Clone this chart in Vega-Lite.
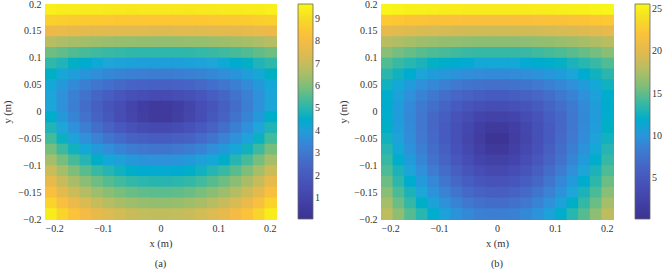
{
  "$schema": "https://vega.github.io/schema/vega-lite/v6.json",
  "padding": {"left": 2, "top": -2, "right": 0, "bottom": 0},
  "background": "white",
  "spacing": 17,
  "config": {
    "font": "Liberation Serif",
    "view": {"stroke": "#555555", "strokeWidth": 1},
    "axis": {"domain": false, "ticks": false, "grid": false, "labelFont": "Liberation Serif", "labelFontSize": 10, "labelColor": "#333333", "labelPadding": 4, "titleFont": "Liberation Serif", "titleFontSize": 10.5, "titleFontWeight": "normal", "titleColor": "#333333", "titlePadding": 5},
    "legend": {"orient": "right", "offset": 22, "padding": 0, "gradientLength": 215, "gradientThickness": 15, "gradientStrokeColor": "#666666", "gradientStrokeWidth": 0.8, "labelFont": "Liberation Serif", "labelFontSize": 10, "labelColor": "#333333", "labelOffset": 5},
    "title": {"font": "Liberation Serif", "fontSize": 10.5, "fontWeight": "normal", "color": "#333333"}
  },
  "datasets": {
    "a": [
      {"x":-0.2,"y":0.18,"v":9.46},{"x":-0.18,"y":0.18,"v":9.42},{"x":-0.16,"y":0.18,"v":9.39},{"x":-0.14,"y":0.18,"v":9.36},{"x":-0.12,"y":0.18,"v":9.34},{"x":-0.1,"y":0.18,"v":9.33},{"x":-0.08,"y":0.18,"v":9.32},{"x":-0.06,"y":0.18,"v":9.31},{"x":-0.04,"y":0.18,"v":9.30},{"x":-0.02,"y":0.18,"v":9.30},{"x":0,"y":0.18,"v":9.30},{"x":0.02,"y":0.18,"v":9.30},{"x":0.04,"y":0.18,"v":9.31},{"x":0.06,"y":0.18,"v":9.32},{"x":0.08,"y":0.18,"v":9.33},{"x":0.1,"y":0.18,"v":9.34},{"x":0.12,"y":0.18,"v":9.36},{"x":0.14,"y":0.18,"v":9.39},{"x":0.16,"y":0.18,"v":9.42},{"x":0.18,"y":0.18,"v":9.46},
      {"x":-0.2,"y":0.16,"v":8.73},{"x":-0.18,"y":0.16,"v":8.67},{"x":-0.16,"y":0.16,"v":8.63},{"x":-0.14,"y":0.16,"v":8.59},{"x":-0.12,"y":0.16,"v":8.56},{"x":-0.1,"y":0.16,"v":8.54},{"x":-0.08,"y":0.16,"v":8.52},{"x":-0.06,"y":0.16,"v":8.51},{"x":-0.04,"y":0.16,"v":8.50},{"x":-0.02,"y":0.16,"v":8.50},{"x":0,"y":0.16,"v":8.50},{"x":0.02,"y":0.16,"v":8.50},{"x":0.04,"y":0.16,"v":8.51},{"x":0.06,"y":0.16,"v":8.52},{"x":0.08,"y":0.16,"v":8.54},{"x":0.1,"y":0.16,"v":8.56},{"x":0.12,"y":0.16,"v":8.59},{"x":0.14,"y":0.16,"v":8.63},{"x":0.16,"y":0.16,"v":8.67},{"x":0.18,"y":0.16,"v":8.73},
      {"x":-0.2,"y":0.14,"v":7.79},{"x":-0.18,"y":0.14,"v":7.71},{"x":-0.16,"y":0.14,"v":7.64},{"x":-0.14,"y":0.14,"v":7.58},{"x":-0.12,"y":0.14,"v":7.54},{"x":-0.1,"y":0.14,"v":7.51},{"x":-0.08,"y":0.14,"v":7.49},{"x":-0.06,"y":0.14,"v":7.47},{"x":-0.04,"y":0.14,"v":7.46},{"x":-0.02,"y":0.14,"v":7.45},{"x":0,"y":0.14,"v":7.45},{"x":0.02,"y":0.14,"v":7.46},{"x":0.04,"y":0.14,"v":7.47},{"x":0.06,"y":0.14,"v":7.49},{"x":0.08,"y":0.14,"v":7.51},{"x":0.1,"y":0.14,"v":7.54},{"x":0.12,"y":0.14,"v":7.58},{"x":0.14,"y":0.14,"v":7.64},{"x":0.16,"y":0.14,"v":7.71},{"x":0.18,"y":0.14,"v":7.79},
      {"x":-0.2,"y":0.12,"v":6.76},{"x":-0.18,"y":0.12,"v":6.63},{"x":-0.16,"y":0.12,"v":6.53},{"x":-0.14,"y":0.12,"v":6.45},{"x":-0.12,"y":0.12,"v":6.39},{"x":-0.1,"y":0.12,"v":6.34},{"x":-0.08,"y":0.12,"v":6.30},{"x":-0.06,"y":0.12,"v":6.28},{"x":-0.04,"y":0.12,"v":6.26},{"x":-0.02,"y":0.12,"v":6.25},{"x":0,"y":0.12,"v":6.25},{"x":0.02,"y":0.12,"v":6.26},{"x":0.04,"y":0.12,"v":6.28},{"x":0.06,"y":0.12,"v":6.30},{"x":0.08,"y":0.12,"v":6.34},{"x":0.1,"y":0.12,"v":6.39},{"x":0.12,"y":0.12,"v":6.45},{"x":0.14,"y":0.12,"v":6.53},{"x":0.16,"y":0.12,"v":6.63},{"x":0.18,"y":0.12,"v":6.76},
      {"x":-0.2,"y":0.1,"v":5.84},{"x":-0.18,"y":0.1,"v":5.66},{"x":-0.16,"y":0.1,"v":5.51},{"x":-0.14,"y":0.1,"v":5.40},{"x":-0.12,"y":0.1,"v":5.31},{"x":-0.1,"y":0.1,"v":5.24},{"x":-0.08,"y":0.1,"v":5.18},{"x":-0.06,"y":0.1,"v":5.14},{"x":-0.04,"y":0.1,"v":5.11},{"x":-0.02,"y":0.1,"v":5.10},{"x":0,"y":0.1,"v":5.10},{"x":0.02,"y":0.1,"v":5.11},{"x":0.04,"y":0.1,"v":5.14},{"x":0.06,"y":0.1,"v":5.18},{"x":0.08,"y":0.1,"v":5.24},{"x":0.1,"y":0.1,"v":5.31},{"x":0.12,"y":0.1,"v":5.40},{"x":0.14,"y":0.1,"v":5.51},{"x":0.16,"y":0.1,"v":5.66},{"x":0.18,"y":0.1,"v":5.84},
      {"x":-0.2,"y":0.08,"v":5.12},{"x":-0.18,"y":0.08,"v":4.86},{"x":-0.16,"y":0.08,"v":4.66},{"x":-0.14,"y":0.08,"v":4.49},{"x":-0.12,"y":0.08,"v":4.36},{"x":-0.1,"y":0.08,"v":4.25},{"x":-0.08,"y":0.08,"v":4.17},{"x":-0.06,"y":0.08,"v":4.11},{"x":-0.04,"y":0.08,"v":4.07},{"x":-0.02,"y":0.08,"v":4.05},{"x":0,"y":0.08,"v":4.05},{"x":0.02,"y":0.08,"v":4.07},{"x":0.04,"y":0.08,"v":4.11},{"x":0.06,"y":0.08,"v":4.17},{"x":0.08,"y":0.08,"v":4.25},{"x":0.1,"y":0.08,"v":4.36},{"x":0.12,"y":0.08,"v":4.49},{"x":0.14,"y":0.08,"v":4.66},{"x":0.16,"y":0.08,"v":4.86},{"x":0.18,"y":0.08,"v":5.12},
      {"x":-0.2,"y":0.06,"v":4.65},{"x":-0.18,"y":0.06,"v":4.31},{"x":-0.16,"y":0.06,"v":4.03},{"x":-0.14,"y":0.06,"v":3.80},{"x":-0.12,"y":0.06,"v":3.61},{"x":-0.1,"y":0.06,"v":3.46},{"x":-0.08,"y":0.06,"v":3.34},{"x":-0.06,"y":0.06,"v":3.24},{"x":-0.04,"y":0.06,"v":3.18},{"x":-0.02,"y":0.06,"v":3.15},{"x":0,"y":0.06,"v":3.15},{"x":0.02,"y":0.06,"v":3.18},{"x":0.04,"y":0.06,"v":3.24},{"x":0.06,"y":0.06,"v":3.34},{"x":0.08,"y":0.06,"v":3.46},{"x":0.1,"y":0.06,"v":3.61},{"x":0.12,"y":0.06,"v":3.80},{"x":0.14,"y":0.06,"v":4.03},{"x":0.16,"y":0.06,"v":4.31},{"x":0.18,"y":0.06,"v":4.65},
      {"x":-0.2,"y":0.04,"v":4.33},{"x":-0.18,"y":0.04,"v":3.89},{"x":-0.16,"y":0.04,"v":3.53},{"x":-0.14,"y":0.04,"v":3.21},{"x":-0.12,"y":0.04,"v":2.95},{"x":-0.1,"y":0.04,"v":2.73},{"x":-0.08,"y":0.04,"v":2.54},{"x":-0.06,"y":0.04,"v":2.40},{"x":-0.04,"y":0.04,"v":2.31},{"x":-0.02,"y":0.04,"v":2.26},{"x":0,"y":0.04,"v":2.26},{"x":0.02,"y":0.04,"v":2.31},{"x":0.04,"y":0.04,"v":2.40},{"x":0.06,"y":0.04,"v":2.54},{"x":0.08,"y":0.04,"v":2.73},{"x":0.1,"y":0.04,"v":2.95},{"x":0.12,"y":0.04,"v":3.21},{"x":0.14,"y":0.04,"v":3.53},{"x":0.16,"y":0.04,"v":3.89},{"x":0.18,"y":0.04,"v":4.33},
      {"x":-0.2,"y":0.02,"v":4.20},{"x":-0.18,"y":0.02,"v":3.68},{"x":-0.16,"y":0.02,"v":3.22},{"x":-0.14,"y":0.02,"v":2.81},{"x":-0.12,"y":0.02,"v":2.45},{"x":-0.1,"y":0.02,"v":2.14},{"x":-0.08,"y":0.02,"v":1.86},{"x":-0.06,"y":0.02,"v":1.63},{"x":-0.04,"y":0.02,"v":1.45},{"x":-0.02,"y":0.02,"v":1.36},{"x":0,"y":0.02,"v":1.36},{"x":0.02,"y":0.02,"v":1.45},{"x":0.04,"y":0.02,"v":1.63},{"x":0.06,"y":0.02,"v":1.86},{"x":0.08,"y":0.02,"v":2.14},{"x":0.1,"y":0.02,"v":2.45},{"x":0.12,"y":0.02,"v":2.81},{"x":0.14,"y":0.02,"v":3.22},{"x":0.16,"y":0.02,"v":3.68},{"x":0.18,"y":0.02,"v":4.20},
      {"x":-0.2,"y":0,"v":4.28},{"x":-0.18,"y":0,"v":3.69},{"x":-0.16,"y":0,"v":3.16},{"x":-0.14,"y":0,"v":2.68},{"x":-0.12,"y":0,"v":2.24},{"x":-0.1,"y":0,"v":1.83},{"x":-0.08,"y":0,"v":1.44},{"x":-0.06,"y":0,"v":1.07},{"x":-0.04,"y":0,"v":0.73},{"x":-0.02,"y":0,"v":0.49},{"x":0,"y":0,"v":0.49},{"x":0.02,"y":0,"v":0.73},{"x":0.04,"y":0,"v":1.07},{"x":0.06,"y":0,"v":1.44},{"x":0.08,"y":0,"v":1.83},{"x":0.1,"y":0,"v":2.24},{"x":0.12,"y":0,"v":2.68},{"x":0.14,"y":0,"v":3.16},{"x":0.16,"y":0,"v":3.69},{"x":0.18,"y":0,"v":4.28},
      {"x":-0.2,"y":-0.02,"v":4.53},{"x":-0.18,"y":-0.02,"v":3.90},{"x":-0.16,"y":-0.02,"v":3.34},{"x":-0.14,"y":-0.02,"v":2.83},{"x":-0.12,"y":-0.02,"v":2.36},{"x":-0.1,"y":-0.02,"v":1.92},{"x":-0.08,"y":-0.02,"v":1.50},{"x":-0.06,"y":-0.02,"v":1.11},{"x":-0.04,"y":-0.02,"v":0.74},{"x":-0.02,"y":-0.02,"v":0.47},{"x":0,"y":-0.02,"v":0.47},{"x":0.02,"y":-0.02,"v":0.74},{"x":0.04,"y":-0.02,"v":1.11},{"x":0.06,"y":-0.02,"v":1.50},{"x":0.08,"y":-0.02,"v":1.92},{"x":0.1,"y":-0.02,"v":2.36},{"x":0.12,"y":-0.02,"v":2.83},{"x":0.14,"y":-0.02,"v":3.34},{"x":0.16,"y":-0.02,"v":3.90},{"x":0.18,"y":-0.02,"v":4.53},
      {"x":-0.2,"y":-0.04,"v":4.88},{"x":-0.18,"y":-0.04,"v":4.25},{"x":-0.16,"y":-0.04,"v":3.69},{"x":-0.14,"y":-0.04,"v":3.19},{"x":-0.12,"y":-0.04,"v":2.74},{"x":-0.1,"y":-0.04,"v":2.33},{"x":-0.08,"y":-0.04,"v":1.97},{"x":-0.06,"y":-0.04,"v":1.66},{"x":-0.04,"y":-0.04,"v":1.41},{"x":-0.02,"y":-0.04,"v":1.28},{"x":0,"y":-0.04,"v":1.28},{"x":0.02,"y":-0.04,"v":1.41},{"x":0.04,"y":-0.04,"v":1.66},{"x":0.06,"y":-0.04,"v":1.97},{"x":0.08,"y":-0.04,"v":2.33},{"x":0.1,"y":-0.04,"v":2.74},{"x":0.12,"y":-0.04,"v":3.19},{"x":0.14,"y":-0.04,"v":3.69},{"x":0.16,"y":-0.04,"v":4.25},{"x":0.18,"y":-0.04,"v":4.88},
      {"x":-0.2,"y":-0.06,"v":5.35},{"x":-0.18,"y":-0.06,"v":4.72},{"x":-0.16,"y":-0.06,"v":4.18},{"x":-0.14,"y":-0.06,"v":3.70},{"x":-0.12,"y":-0.06,"v":3.28},{"x":-0.1,"y":-0.06,"v":2.92},{"x":-0.08,"y":-0.06,"v":2.61},{"x":-0.06,"y":-0.06,"v":2.36},{"x":-0.04,"y":-0.06,"v":2.19},{"x":-0.02,"y":-0.06,"v":2.09},{"x":0,"y":-0.06,"v":2.09},{"x":0.02,"y":-0.06,"v":2.19},{"x":0.04,"y":-0.06,"v":2.36},{"x":0.06,"y":-0.06,"v":2.61},{"x":0.08,"y":-0.06,"v":2.92},{"x":0.1,"y":-0.06,"v":3.28},{"x":0.12,"y":-0.06,"v":3.70},{"x":0.14,"y":-0.06,"v":4.18},{"x":0.16,"y":-0.06,"v":4.72},{"x":0.18,"y":-0.06,"v":5.35},
      {"x":-0.2,"y":-0.08,"v":5.90},{"x":-0.18,"y":-0.08,"v":5.29},{"x":-0.16,"y":-0.08,"v":4.76},{"x":-0.14,"y":-0.08,"v":4.31},{"x":-0.12,"y":-0.08,"v":3.93},{"x":-0.1,"y":-0.08,"v":3.60},{"x":-0.08,"y":-0.08,"v":3.34},{"x":-0.06,"y":-0.08,"v":3.13},{"x":-0.04,"y":-0.08,"v":2.98},{"x":-0.02,"y":-0.08,"v":2.91},{"x":0,"y":-0.08,"v":2.91},{"x":0.02,"y":-0.08,"v":2.98},{"x":0.04,"y":-0.08,"v":3.13},{"x":0.06,"y":-0.08,"v":3.34},{"x":0.08,"y":-0.08,"v":3.60},{"x":0.1,"y":-0.08,"v":3.93},{"x":0.12,"y":-0.08,"v":4.31},{"x":0.14,"y":-0.08,"v":4.76},{"x":0.16,"y":-0.08,"v":5.29},{"x":0.18,"y":-0.08,"v":5.90},
      {"x":-0.2,"y":-0.1,"v":6.51},{"x":-0.18,"y":-0.1,"v":5.91},{"x":-0.16,"y":-0.1,"v":5.40},{"x":-0.14,"y":-0.1,"v":4.97},{"x":-0.12,"y":-0.1,"v":4.61},{"x":-0.1,"y":-0.1,"v":4.32},{"x":-0.08,"y":-0.1,"v":4.08},{"x":-0.06,"y":-0.1,"v":3.90},{"x":-0.04,"y":-0.1,"v":3.77},{"x":-0.02,"y":-0.1,"v":3.71},{"x":0,"y":-0.1,"v":3.71},{"x":0.02,"y":-0.1,"v":3.77},{"x":0.04,"y":-0.1,"v":3.90},{"x":0.06,"y":-0.1,"v":4.08},{"x":0.08,"y":-0.1,"v":4.32},{"x":0.1,"y":-0.1,"v":4.61},{"x":0.12,"y":-0.1,"v":4.97},{"x":0.14,"y":-0.1,"v":5.40},{"x":0.16,"y":-0.1,"v":5.91},{"x":0.18,"y":-0.1,"v":6.51},
      {"x":-0.2,"y":-0.12,"v":7.09},{"x":-0.18,"y":-0.12,"v":6.50},{"x":-0.16,"y":-0.12,"v":6.00},{"x":-0.14,"y":-0.12,"v":5.59},{"x":-0.12,"y":-0.12,"v":5.25},{"x":-0.1,"y":-0.12,"v":4.97},{"x":-0.08,"y":-0.12,"v":4.75},{"x":-0.06,"y":-0.12,"v":4.58},{"x":-0.04,"y":-0.12,"v":4.46},{"x":-0.02,"y":-0.12,"v":4.41},{"x":0,"y":-0.12,"v":4.41},{"x":0.02,"y":-0.12,"v":4.46},{"x":0.04,"y":-0.12,"v":4.58},{"x":0.06,"y":-0.12,"v":4.75},{"x":0.08,"y":-0.12,"v":4.97},{"x":0.1,"y":-0.12,"v":5.25},{"x":0.12,"y":-0.12,"v":5.59},{"x":0.14,"y":-0.12,"v":6.00},{"x":0.16,"y":-0.12,"v":6.50},{"x":0.18,"y":-0.12,"v":7.09},
      {"x":-0.2,"y":-0.14,"v":7.64},{"x":-0.18,"y":-0.14,"v":7.05},{"x":-0.16,"y":-0.14,"v":6.56},{"x":-0.14,"y":-0.14,"v":6.15},{"x":-0.12,"y":-0.14,"v":5.82},{"x":-0.1,"y":-0.14,"v":5.55},{"x":-0.08,"y":-0.14,"v":5.33},{"x":-0.06,"y":-0.14,"v":5.17},{"x":-0.04,"y":-0.14,"v":5.06},{"x":-0.02,"y":-0.14,"v":5.01},{"x":0,"y":-0.14,"v":5.01},{"x":0.02,"y":-0.14,"v":5.06},{"x":0.04,"y":-0.14,"v":5.17},{"x":0.06,"y":-0.14,"v":5.33},{"x":0.08,"y":-0.14,"v":5.55},{"x":0.1,"y":-0.14,"v":5.82},{"x":0.12,"y":-0.14,"v":6.15},{"x":0.14,"y":-0.14,"v":6.56},{"x":0.16,"y":-0.14,"v":7.05},{"x":0.18,"y":-0.14,"v":7.64},
      {"x":-0.2,"y":-0.16,"v":8.20},{"x":-0.18,"y":-0.16,"v":7.61},{"x":-0.16,"y":-0.16,"v":7.12},{"x":-0.14,"y":-0.16,"v":6.72},{"x":-0.12,"y":-0.16,"v":6.39},{"x":-0.1,"y":-0.16,"v":6.13},{"x":-0.08,"y":-0.16,"v":5.92},{"x":-0.06,"y":-0.16,"v":5.76},{"x":-0.04,"y":-0.16,"v":5.66},{"x":-0.02,"y":-0.16,"v":5.61},{"x":0,"y":-0.16,"v":5.61},{"x":0.02,"y":-0.16,"v":5.66},{"x":0.04,"y":-0.16,"v":5.76},{"x":0.06,"y":-0.16,"v":5.92},{"x":0.08,"y":-0.16,"v":6.13},{"x":0.1,"y":-0.16,"v":6.39},{"x":0.12,"y":-0.16,"v":6.72},{"x":0.14,"y":-0.16,"v":7.12},{"x":0.16,"y":-0.16,"v":7.61},{"x":0.18,"y":-0.16,"v":8.20},
      {"x":-0.2,"y":-0.18,"v":8.80},{"x":-0.18,"y":-0.18,"v":8.21},{"x":-0.16,"y":-0.18,"v":7.73},{"x":-0.14,"y":-0.18,"v":7.34},{"x":-0.12,"y":-0.18,"v":7.02},{"x":-0.1,"y":-0.18,"v":6.76},{"x":-0.08,"y":-0.18,"v":6.56},{"x":-0.06,"y":-0.18,"v":6.41},{"x":-0.04,"y":-0.18,"v":6.31},{"x":-0.02,"y":-0.18,"v":6.26},{"x":0,"y":-0.18,"v":6.26},{"x":0.02,"y":-0.18,"v":6.31},{"x":0.04,"y":-0.18,"v":6.41},{"x":0.06,"y":-0.18,"v":6.56},{"x":0.08,"y":-0.18,"v":6.76},{"x":0.1,"y":-0.18,"v":7.02},{"x":0.12,"y":-0.18,"v":7.34},{"x":0.14,"y":-0.18,"v":7.73},{"x":0.16,"y":-0.18,"v":8.21},{"x":0.18,"y":-0.18,"v":8.80},
      {"x":-0.2,"y":-0.2,"v":9.42},{"x":-0.18,"y":-0.2,"v":8.83},{"x":-0.16,"y":-0.2,"v":8.35},{"x":-0.14,"y":-0.2,"v":7.96},{"x":-0.12,"y":-0.2,"v":7.65},{"x":-0.1,"y":-0.2,"v":7.40},{"x":-0.08,"y":-0.2,"v":7.20},{"x":-0.06,"y":-0.2,"v":7.05},{"x":-0.04,"y":-0.2,"v":6.96},{"x":-0.02,"y":-0.2,"v":6.91},{"x":0,"y":-0.2,"v":6.91},{"x":0.02,"y":-0.2,"v":6.96},{"x":0.04,"y":-0.2,"v":7.05},{"x":0.06,"y":-0.2,"v":7.20},{"x":0.08,"y":-0.2,"v":7.40},{"x":0.1,"y":-0.2,"v":7.65},{"x":0.12,"y":-0.2,"v":7.96},{"x":0.14,"y":-0.2,"v":8.35},{"x":0.16,"y":-0.2,"v":8.83},{"x":0.18,"y":-0.2,"v":9.42}
    ],
    "b": [
      {"x":-0.2,"y":0.18,"v":25.4},{"x":-0.18,"y":0.18,"v":25.3},{"x":-0.16,"y":0.18,"v":25.1},{"x":-0.14,"y":0.18,"v":25.1},{"x":-0.12,"y":0.18,"v":25.0},{"x":-0.1,"y":0.18,"v":24.9},{"x":-0.08,"y":0.18,"v":24.9},{"x":-0.06,"y":0.18,"v":24.8},{"x":-0.04,"y":0.18,"v":24.8},{"x":-0.02,"y":0.18,"v":24.8},{"x":0,"y":0.18,"v":24.8},{"x":0.02,"y":0.18,"v":24.8},{"x":0.04,"y":0.18,"v":24.8},{"x":0.06,"y":0.18,"v":24.9},{"x":0.08,"y":0.18,"v":24.9},{"x":0.1,"y":0.18,"v":25.0},{"x":0.12,"y":0.18,"v":25.1},{"x":0.14,"y":0.18,"v":25.1},{"x":0.16,"y":0.18,"v":25.3},{"x":0.18,"y":0.18,"v":25.4},
      {"x":-0.2,"y":0.16,"v":22.7},{"x":-0.18,"y":0.16,"v":22.5},{"x":-0.16,"y":0.16,"v":22.3},{"x":-0.14,"y":0.16,"v":22.2},{"x":-0.12,"y":0.16,"v":22.0},{"x":-0.1,"y":0.16,"v":22.0},{"x":-0.08,"y":0.16,"v":21.9},{"x":-0.06,"y":0.16,"v":21.8},{"x":-0.04,"y":0.16,"v":21.8},{"x":-0.02,"y":0.16,"v":21.8},{"x":0,"y":0.16,"v":21.8},{"x":0.02,"y":0.16,"v":21.8},{"x":0.04,"y":0.16,"v":21.8},{"x":0.06,"y":0.16,"v":21.9},{"x":0.08,"y":0.16,"v":22.0},{"x":0.1,"y":0.16,"v":22.0},{"x":0.12,"y":0.16,"v":22.2},{"x":0.14,"y":0.16,"v":22.3},{"x":0.16,"y":0.16,"v":22.5},{"x":0.18,"y":0.16,"v":22.7},
      {"x":-0.2,"y":0.14,"v":20.2},{"x":-0.18,"y":0.14,"v":19.9},{"x":-0.16,"y":0.14,"v":19.7},{"x":-0.14,"y":0.14,"v":19.5},{"x":-0.12,"y":0.14,"v":19.3},{"x":-0.1,"y":0.14,"v":19.2},{"x":-0.08,"y":0.14,"v":19.1},{"x":-0.06,"y":0.14,"v":19.0},{"x":-0.04,"y":0.14,"v":19.0},{"x":-0.02,"y":0.14,"v":18.9},{"x":0,"y":0.14,"v":18.9},{"x":0.02,"y":0.14,"v":19.0},{"x":0.04,"y":0.14,"v":19.0},{"x":0.06,"y":0.14,"v":19.1},{"x":0.08,"y":0.14,"v":19.2},{"x":0.1,"y":0.14,"v":19.3},{"x":0.12,"y":0.14,"v":19.5},{"x":0.14,"y":0.14,"v":19.7},{"x":0.16,"y":0.14,"v":19.9},{"x":0.18,"y":0.14,"v":20.2},
      {"x":-0.2,"y":0.12,"v":18.0},{"x":-0.18,"y":0.12,"v":17.6},{"x":-0.16,"y":0.12,"v":17.3},{"x":-0.14,"y":0.12,"v":17.0},{"x":-0.12,"y":0.12,"v":16.8},{"x":-0.1,"y":0.12,"v":16.6},{"x":-0.08,"y":0.12,"v":16.5},{"x":-0.06,"y":0.12,"v":16.4},{"x":-0.04,"y":0.12,"v":16.3},{"x":-0.02,"y":0.12,"v":16.3},{"x":0,"y":0.12,"v":16.3},{"x":0.02,"y":0.12,"v":16.3},{"x":0.04,"y":0.12,"v":16.4},{"x":0.06,"y":0.12,"v":16.5},{"x":0.08,"y":0.12,"v":16.6},{"x":0.1,"y":0.12,"v":16.8},{"x":0.12,"y":0.12,"v":17.0},{"x":0.14,"y":0.12,"v":17.3},{"x":0.16,"y":0.12,"v":17.6},{"x":0.18,"y":0.12,"v":18.0},
      {"x":-0.2,"y":0.1,"v":16.2},{"x":-0.18,"y":0.1,"v":15.6},{"x":-0.16,"y":0.1,"v":15.2},{"x":-0.14,"y":0.1,"v":14.8},{"x":-0.12,"y":0.1,"v":14.5},{"x":-0.1,"y":0.1,"v":14.3},{"x":-0.08,"y":0.1,"v":14.1},{"x":-0.06,"y":0.1,"v":13.9},{"x":-0.04,"y":0.1,"v":13.8},{"x":-0.02,"y":0.1,"v":13.8},{"x":0,"y":0.1,"v":13.8},{"x":0.02,"y":0.1,"v":13.8},{"x":0.04,"y":0.1,"v":13.9},{"x":0.06,"y":0.1,"v":14.1},{"x":0.08,"y":0.1,"v":14.3},{"x":0.1,"y":0.1,"v":14.5},{"x":0.12,"y":0.1,"v":14.8},{"x":0.14,"y":0.1,"v":15.2},{"x":0.16,"y":0.1,"v":15.6},{"x":0.18,"y":0.1,"v":16.2},
      {"x":-0.2,"y":0.08,"v":14.6},{"x":-0.18,"y":0.08,"v":13.9},{"x":-0.16,"y":0.08,"v":13.3},{"x":-0.14,"y":0.08,"v":12.8},{"x":-0.12,"y":0.08,"v":12.4},{"x":-0.1,"y":0.08,"v":12.1},{"x":-0.08,"y":0.08,"v":11.9},{"x":-0.06,"y":0.08,"v":11.7},{"x":-0.04,"y":0.08,"v":11.5},{"x":-0.02,"y":0.08,"v":11.5},{"x":0,"y":0.08,"v":11.5},{"x":0.02,"y":0.08,"v":11.5},{"x":0.04,"y":0.08,"v":11.7},{"x":0.06,"y":0.08,"v":11.9},{"x":0.08,"y":0.08,"v":12.1},{"x":0.1,"y":0.08,"v":12.4},{"x":0.12,"y":0.08,"v":12.8},{"x":0.14,"y":0.08,"v":13.3},{"x":0.16,"y":0.08,"v":13.9},{"x":0.18,"y":0.08,"v":14.6},
      {"x":-0.2,"y":0.06,"v":13.4},{"x":-0.18,"y":0.06,"v":12.6},{"x":-0.16,"y":0.06,"v":11.8},{"x":-0.14,"y":0.06,"v":11.2},{"x":-0.12,"y":0.06,"v":10.6},{"x":-0.1,"y":0.06,"v":10.2},{"x":-0.08,"y":0.06,"v":9.9},{"x":-0.06,"y":0.06,"v":9.6},{"x":-0.04,"y":0.06,"v":9.4},{"x":-0.02,"y":0.06,"v":9.3},{"x":0,"y":0.06,"v":9.3},{"x":0.02,"y":0.06,"v":9.4},{"x":0.04,"y":0.06,"v":9.6},{"x":0.06,"y":0.06,"v":9.9},{"x":0.08,"y":0.06,"v":10.2},{"x":0.1,"y":0.06,"v":10.6},{"x":0.12,"y":0.06,"v":11.2},{"x":0.14,"y":0.06,"v":11.8},{"x":0.16,"y":0.06,"v":12.6},{"x":0.18,"y":0.06,"v":13.4},
      {"x":-0.2,"y":0.04,"v":12.6},{"x":-0.18,"y":0.04,"v":11.5},{"x":-0.16,"y":0.04,"v":10.6},{"x":-0.14,"y":0.04,"v":9.8},{"x":-0.12,"y":0.04,"v":9.1},{"x":-0.1,"y":0.04,"v":8.6},{"x":-0.08,"y":0.04,"v":8.1},{"x":-0.06,"y":0.04,"v":7.7},{"x":-0.04,"y":0.04,"v":7.5},{"x":-0.02,"y":0.04,"v":7.3},{"x":0,"y":0.04,"v":7.3},{"x":0.02,"y":0.04,"v":7.5},{"x":0.04,"y":0.04,"v":7.7},{"x":0.06,"y":0.04,"v":8.1},{"x":0.08,"y":0.04,"v":8.6},{"x":0.1,"y":0.04,"v":9.1},{"x":0.12,"y":0.04,"v":9.8},{"x":0.14,"y":0.04,"v":10.6},{"x":0.16,"y":0.04,"v":11.5},{"x":0.18,"y":0.04,"v":12.6},
      {"x":-0.2,"y":0.02,"v":12.1},{"x":-0.18,"y":0.02,"v":10.9},{"x":-0.16,"y":0.02,"v":9.8},{"x":-0.14,"y":0.02,"v":8.8},{"x":-0.12,"y":0.02,"v":8.0},{"x":-0.1,"y":0.02,"v":7.2},{"x":-0.08,"y":0.02,"v":6.6},{"x":-0.06,"y":0.02,"v":6.1},{"x":-0.04,"y":0.02,"v":5.7},{"x":-0.02,"y":0.02,"v":5.5},{"x":0,"y":0.02,"v":5.5},{"x":0.02,"y":0.02,"v":5.7},{"x":0.04,"y":0.02,"v":6.1},{"x":0.06,"y":0.02,"v":6.6},{"x":0.08,"y":0.02,"v":7.2},{"x":0.1,"y":0.02,"v":8.0},{"x":0.12,"y":0.02,"v":8.8},{"x":0.14,"y":0.02,"v":9.8},{"x":0.16,"y":0.02,"v":10.9},{"x":0.18,"y":0.02,"v":12.1},
      {"x":-0.2,"y":0,"v":11.9},{"x":-0.18,"y":0,"v":10.6},{"x":-0.16,"y":0,"v":9.3},{"x":-0.14,"y":0,"v":8.2},{"x":-0.12,"y":0,"v":7.2},{"x":-0.1,"y":0,"v":6.3},{"x":-0.08,"y":0,"v":5.4},{"x":-0.06,"y":0,"v":4.7},{"x":-0.04,"y":0,"v":4.2},{"x":-0.02,"y":0,"v":3.9},{"x":0,"y":0,"v":3.9},{"x":0.02,"y":0,"v":4.2},{"x":0.04,"y":0,"v":4.7},{"x":0.06,"y":0,"v":5.4},{"x":0.08,"y":0,"v":6.3},{"x":0.1,"y":0,"v":7.2},{"x":0.12,"y":0,"v":8.2},{"x":0.14,"y":0,"v":9.3},{"x":0.16,"y":0,"v":10.6},{"x":0.18,"y":0,"v":11.9},
      {"x":-0.2,"y":-0.02,"v":12.0},{"x":-0.18,"y":-0.02,"v":10.5},{"x":-0.16,"y":-0.02,"v":9.2},{"x":-0.14,"y":-0.02,"v":7.9},{"x":-0.12,"y":-0.02,"v":6.7},{"x":-0.1,"y":-0.02,"v":5.7},{"x":-0.08,"y":-0.02,"v":4.6},{"x":-0.06,"y":-0.02,"v":3.7},{"x":-0.04,"y":-0.02,"v":2.9},{"x":-0.02,"y":-0.02,"v":2.5},{"x":0,"y":-0.02,"v":2.5},{"x":0.02,"y":-0.02,"v":2.9},{"x":0.04,"y":-0.02,"v":3.7},{"x":0.06,"y":-0.02,"v":4.6},{"x":0.08,"y":-0.02,"v":5.7},{"x":0.1,"y":-0.02,"v":6.7},{"x":0.12,"y":-0.02,"v":7.9},{"x":0.14,"y":-0.02,"v":9.2},{"x":0.16,"y":-0.02,"v":10.5},{"x":0.18,"y":-0.02,"v":12.0},
      {"x":-0.2,"y":-0.04,"v":12.3},{"x":-0.18,"y":-0.04,"v":10.7},{"x":-0.16,"y":-0.04,"v":9.3},{"x":-0.14,"y":-0.04,"v":7.9},{"x":-0.12,"y":-0.04,"v":6.6},{"x":-0.1,"y":-0.04,"v":5.4},{"x":-0.08,"y":-0.04,"v":4.3},{"x":-0.06,"y":-0.04,"v":3.1},{"x":-0.04,"y":-0.04,"v":2.1},{"x":-0.02,"y":-0.04,"v":1.3},{"x":0,"y":-0.04,"v":1.3},{"x":0.02,"y":-0.04,"v":2.1},{"x":0.04,"y":-0.04,"v":3.1},{"x":0.06,"y":-0.04,"v":4.3},{"x":0.08,"y":-0.04,"v":5.4},{"x":0.1,"y":-0.04,"v":6.6},{"x":0.12,"y":-0.04,"v":7.9},{"x":0.14,"y":-0.04,"v":9.3},{"x":0.16,"y":-0.04,"v":10.7},{"x":0.18,"y":-0.04,"v":12.3},
      {"x":-0.2,"y":-0.06,"v":12.6},{"x":-0.18,"y":-0.06,"v":11.0},{"x":-0.16,"y":-0.06,"v":9.5},{"x":-0.14,"y":-0.06,"v":8.1},{"x":-0.12,"y":-0.06,"v":6.8},{"x":-0.1,"y":-0.06,"v":5.5},{"x":-0.08,"y":-0.06,"v":4.2},{"x":-0.06,"y":-0.06,"v":3.0},{"x":-0.04,"y":-0.06,"v":1.8},{"x":-0.02,"y":-0.06,"v":0.6},{"x":0,"y":-0.06,"v":0.6},{"x":0.02,"y":-0.06,"v":1.8},{"x":0.04,"y":-0.06,"v":3.0},{"x":0.06,"y":-0.06,"v":4.2},{"x":0.08,"y":-0.06,"v":5.5},{"x":0.1,"y":-0.06,"v":6.8},{"x":0.12,"y":-0.06,"v":8.1},{"x":0.14,"y":-0.06,"v":9.5},{"x":0.16,"y":-0.06,"v":11.0},{"x":0.18,"y":-0.06,"v":12.6},
      {"x":-0.2,"y":-0.08,"v":13.2},{"x":-0.18,"y":-0.08,"v":11.5},{"x":-0.16,"y":-0.08,"v":9.9},{"x":-0.14,"y":-0.08,"v":8.5},{"x":-0.12,"y":-0.08,"v":7.1},{"x":-0.1,"y":-0.08,"v":5.8},{"x":-0.08,"y":-0.08,"v":4.5},{"x":-0.06,"y":-0.08,"v":3.3},{"x":-0.04,"y":-0.08,"v":2.2},{"x":-0.02,"y":-0.08,"v":1.2},{"x":0,"y":-0.08,"v":1.2},{"x":0.02,"y":-0.08,"v":2.2},{"x":0.04,"y":-0.08,"v":3.3},{"x":0.06,"y":-0.08,"v":4.5},{"x":0.08,"y":-0.08,"v":5.8},{"x":0.1,"y":-0.08,"v":7.1},{"x":0.12,"y":-0.08,"v":8.5},{"x":0.14,"y":-0.08,"v":9.9},{"x":0.16,"y":-0.08,"v":11.5},{"x":0.18,"y":-0.08,"v":13.2},
      {"x":-0.2,"y":-0.1,"v":13.8},{"x":-0.18,"y":-0.1,"v":12.1},{"x":-0.16,"y":-0.1,"v":10.5},{"x":-0.14,"y":-0.1,"v":9.0},{"x":-0.12,"y":-0.1,"v":7.6},{"x":-0.1,"y":-0.1,"v":6.3},{"x":-0.08,"y":-0.1,"v":5.1},{"x":-0.06,"y":-0.1,"v":3.9},{"x":-0.04,"y":-0.1,"v":2.9},{"x":-0.02,"y":-0.1,"v":2.3},{"x":0,"y":-0.1,"v":2.3},{"x":0.02,"y":-0.1,"v":2.9},{"x":0.04,"y":-0.1,"v":3.9},{"x":0.06,"y":-0.1,"v":5.1},{"x":0.08,"y":-0.1,"v":6.3},{"x":0.1,"y":-0.1,"v":7.6},{"x":0.12,"y":-0.1,"v":9.0},{"x":0.14,"y":-0.1,"v":10.5},{"x":0.16,"y":-0.1,"v":12.1},{"x":0.18,"y":-0.1,"v":13.8},
      {"x":-0.2,"y":-0.12,"v":14.5},{"x":-0.18,"y":-0.12,"v":12.8},{"x":-0.16,"y":-0.12,"v":11.2},{"x":-0.14,"y":-0.12,"v":9.7},{"x":-0.12,"y":-0.12,"v":8.3},{"x":-0.1,"y":-0.12,"v":7.0},{"x":-0.08,"y":-0.12,"v":5.8},{"x":-0.06,"y":-0.12,"v":4.7},{"x":-0.04,"y":-0.12,"v":3.9},{"x":-0.02,"y":-0.12,"v":3.4},{"x":0,"y":-0.12,"v":3.4},{"x":0.02,"y":-0.12,"v":3.9},{"x":0.04,"y":-0.12,"v":4.7},{"x":0.06,"y":-0.12,"v":5.8},{"x":0.08,"y":-0.12,"v":7.0},{"x":0.1,"y":-0.12,"v":8.3},{"x":0.12,"y":-0.12,"v":9.7},{"x":0.14,"y":-0.12,"v":11.2},{"x":0.16,"y":-0.12,"v":12.8},{"x":0.18,"y":-0.12,"v":14.5},
      {"x":-0.2,"y":-0.14,"v":15.3},{"x":-0.18,"y":-0.14,"v":13.5},{"x":-0.16,"y":-0.14,"v":11.9},{"x":-0.14,"y":-0.14,"v":10.4},{"x":-0.12,"y":-0.14,"v":9.1},{"x":-0.1,"y":-0.14,"v":7.8},{"x":-0.08,"y":-0.14,"v":6.7},{"x":-0.06,"y":-0.14,"v":5.7},{"x":-0.04,"y":-0.14,"v":5.0},{"x":-0.02,"y":-0.14,"v":4.6},{"x":0,"y":-0.14,"v":4.6},{"x":0.02,"y":-0.14,"v":5.0},{"x":0.04,"y":-0.14,"v":5.7},{"x":0.06,"y":-0.14,"v":6.7},{"x":0.08,"y":-0.14,"v":7.8},{"x":0.1,"y":-0.14,"v":9.1},{"x":0.12,"y":-0.14,"v":10.4},{"x":0.14,"y":-0.14,"v":11.9},{"x":0.16,"y":-0.14,"v":13.5},{"x":0.18,"y":-0.14,"v":15.3},
      {"x":-0.2,"y":-0.16,"v":16.2},{"x":-0.18,"y":-0.16,"v":14.4},{"x":-0.16,"y":-0.16,"v":12.8},{"x":-0.14,"y":-0.16,"v":11.3},{"x":-0.12,"y":-0.16,"v":9.9},{"x":-0.1,"y":-0.16,"v":8.7},{"x":-0.08,"y":-0.16,"v":7.7},{"x":-0.06,"y":-0.16,"v":6.8},{"x":-0.04,"y":-0.16,"v":6.1},{"x":-0.02,"y":-0.16,"v":5.8},{"x":0,"y":-0.16,"v":5.8},{"x":0.02,"y":-0.16,"v":6.1},{"x":0.04,"y":-0.16,"v":6.8},{"x":0.06,"y":-0.16,"v":7.7},{"x":0.08,"y":-0.16,"v":8.7},{"x":0.1,"y":-0.16,"v":9.9},{"x":0.12,"y":-0.16,"v":11.3},{"x":0.14,"y":-0.16,"v":12.8},{"x":0.16,"y":-0.16,"v":14.4},{"x":0.18,"y":-0.16,"v":16.2},
      {"x":-0.2,"y":-0.18,"v":17.2},{"x":-0.18,"y":-0.18,"v":15.3},{"x":-0.16,"y":-0.18,"v":13.7},{"x":-0.14,"y":-0.18,"v":12.2},{"x":-0.12,"y":-0.18,"v":10.9},{"x":-0.1,"y":-0.18,"v":9.8},{"x":-0.08,"y":-0.18,"v":8.8},{"x":-0.06,"y":-0.18,"v":7.9},{"x":-0.04,"y":-0.18,"v":7.4},{"x":-0.02,"y":-0.18,"v":7.0},{"x":0,"y":-0.18,"v":7.0},{"x":0.02,"y":-0.18,"v":7.4},{"x":0.04,"y":-0.18,"v":7.9},{"x":0.06,"y":-0.18,"v":8.8},{"x":0.08,"y":-0.18,"v":9.8},{"x":0.1,"y":-0.18,"v":10.9},{"x":0.12,"y":-0.18,"v":12.2},{"x":0.14,"y":-0.18,"v":13.7},{"x":0.16,"y":-0.18,"v":15.3},{"x":0.18,"y":-0.18,"v":17.2},
      {"x":-0.2,"y":-0.2,"v":18.2},{"x":-0.18,"y":-0.2,"v":16.4},{"x":-0.16,"y":-0.2,"v":14.7},{"x":-0.14,"y":-0.2,"v":13.3},{"x":-0.12,"y":-0.2,"v":12.0},{"x":-0.1,"y":-0.2,"v":10.9},{"x":-0.08,"y":-0.2,"v":9.9},{"x":-0.06,"y":-0.2,"v":9.2},{"x":-0.04,"y":-0.2,"v":8.6},{"x":-0.02,"y":-0.2,"v":8.4},{"x":0,"y":-0.2,"v":8.4},{"x":0.02,"y":-0.2,"v":8.6},{"x":0.04,"y":-0.2,"v":9.2},{"x":0.06,"y":-0.2,"v":9.9},{"x":0.08,"y":-0.2,"v":10.9},{"x":0.1,"y":-0.2,"v":12.0},{"x":0.12,"y":-0.2,"v":13.3},{"x":0.14,"y":-0.2,"v":14.7},{"x":0.16,"y":-0.2,"v":16.4},{"x":0.18,"y":-0.2,"v":18.2}
    ]
  },
  "hconcat": [
    {
      "width": 231,
      "height": 215,
      "data": {"name": "a"},
      "title": {"text": "(a)", "orient": "bottom", "anchor": "middle", "offset": 10},
      "mark": {"type": "rect", "binSpacing": 0, "xOffset": 0.5, "x2Offset": -0.5, "yOffset": -0.5, "y2Offset": 0.5},
      "encoding": {
        "x": {"field": "x", "type": "quantitative", "bin": {"binned": true, "step": 0.02}, "scale": {"domain": [-0.2, 0.2], "nice": false, "zero": false}, "axis": {"values": [-0.2, -0.1, 0, 0.1, 0.2], "format": "~g", "title": "x (m)"}},
        "y": {"field": "y", "type": "quantitative", "bin": {"binned": true, "step": 0.02}, "scale": {"domain": [-0.2, 0.2], "nice": false, "zero": false}, "axis": {"values": [-0.2, -0.15, -0.1, -0.05, 0, 0.05, 0.1, 0.15, 0.2], "format": "~g", "title": "y (m)"}},
        "color": {"field": "v", "type": "quantitative", "scale": {"type": "linear", "domain": [0.06, 0.661, 1.261, 1.862, 2.463, 3.063, 3.664, 4.264, 4.865, 5.466, 6.066, 6.667, 7.268, 7.868, 8.469, 9.069, 9.67], "range": ["#3b3391", "#413da1", "#4549b0", "#4756bc", "#4666c6", "#3f7ad0", "#3090da", "#1ea6d8", "#22b3b8", "#4dbb95", "#85be77", "#b1bd66", "#d6bb55", "#f2b948", "#fcc535", "#f6de23", "#f8f818"]}, "legend": {"type": "gradient", "title": null, "values": [1, 2, 3, 4, 5, 6, 7, 8, 9]}}
      }
    },
    {
      "width": 232,
      "height": 215,
      "data": {"name": "b"},
      "title": {"text": "(b)", "orient": "bottom", "anchor": "middle", "offset": 10},
      "mark": {"type": "rect", "binSpacing": 0, "xOffset": 0.5, "x2Offset": -0.5, "yOffset": -0.5, "y2Offset": 0.5},
      "encoding": {
        "x": {"field": "x", "type": "quantitative", "bin": {"binned": true, "step": 0.02}, "scale": {"domain": [-0.2, 0.2], "nice": false, "zero": false}, "axis": {"values": [-0.2, -0.1, 0, 0.1, 0.2], "format": "~g", "title": "x (m)"}},
        "y": {"field": "y", "type": "quantitative", "bin": {"binned": true, "step": 0.02}, "scale": {"domain": [-0.2, 0.2], "nice": false, "zero": false}, "axis": {"values": [-0.2, -0.15, -0.1, -0.05, 0, 0.05, 0.1, 0.15, 0.2], "format": "~g", "title": "y (m)"}},
        "color": {"field": "v", "type": "quantitative", "scale": {"type": "linear", "domain": [0.2, 1.788, 3.375, 4.963, 6.55, 8.138, 9.725, 11.313, 12.9, 14.488, 16.075, 17.663, 19.25, 20.838, 22.425, 24.013, 25.6], "range": ["#3b3391", "#413da1", "#4549b0", "#4756bc", "#4666c6", "#3f7ad0", "#3090da", "#1ea6d8", "#22b3b8", "#4dbb95", "#85be77", "#b1bd66", "#d6bb55", "#f2b948", "#fcc535", "#f6de23", "#f8f818"]}, "legend": {"type": "gradient", "title": null, "values": [5, 10, 15, 20, 25]}}
      }
    }
  ],
  "resolve": {"scale": {"color": "independent"}, "legend": {"color": "independent"}}
}
